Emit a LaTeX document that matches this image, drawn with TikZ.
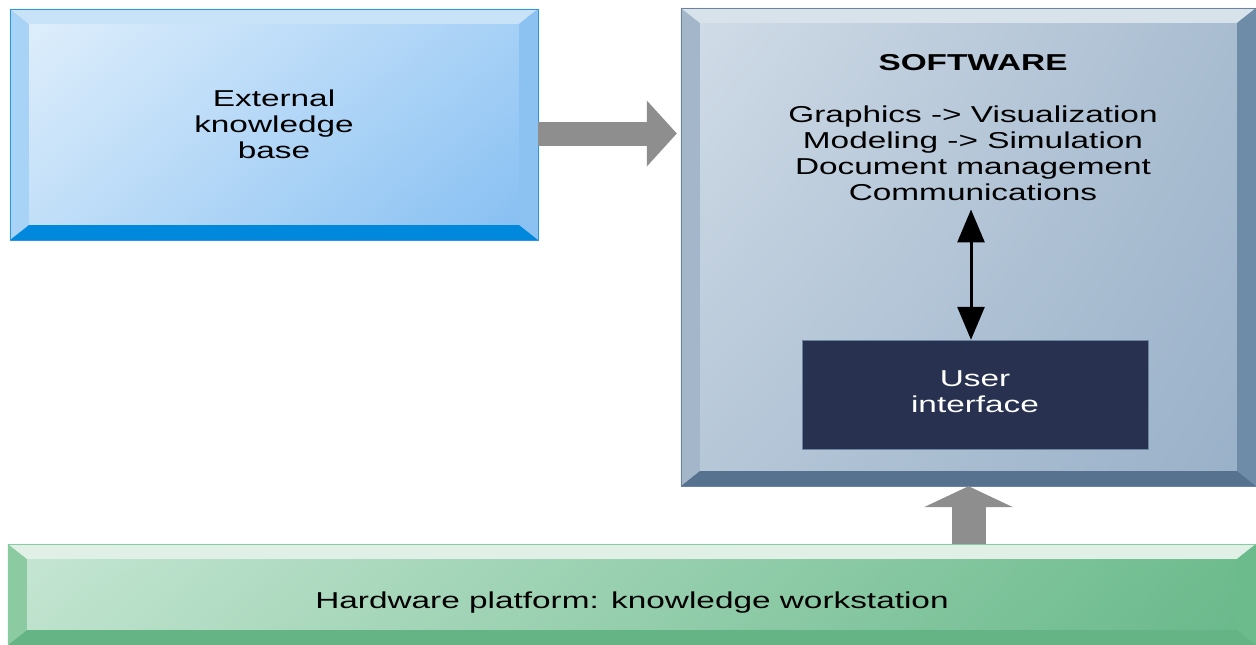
\documentclass[tikz,border=0pt]{standalone}
\usepackage{fontspec}
\setmainfont{Liberation Sans}[FakeStretch=1.45]
\usetikzlibrary{arrows.meta,shadings}

\definecolor{kbUL}{HTML}{E2F0FC}
\definecolor{kbUR}{HTML}{A6D0F6}
\definecolor{kbLL}{HTML}{C2DFF8}
\definecolor{kbLR}{HTML}{84BEF2}
\definecolor{kbTop}{HTML}{C8E2F8}
\definecolor{kbLeft}{HTML}{A8D2F6}
\definecolor{kbRight}{HTML}{8CC2F2}
\definecolor{kbBot}{HTML}{0088DC}
\definecolor{kbLine}{HTML}{2C96E6}
\definecolor{swUL}{HTML}{D2DDE8}
\definecolor{swUR}{HTML}{A8BCD0}
\definecolor{swLL}{HTML}{B6C7D8}
\definecolor{swLR}{HTML}{98B0C8}
\definecolor{swTop}{HTML}{D8E2EA}
\definecolor{swLeft}{HTML}{A4B6CA}
\definecolor{swRight}{HTML}{6E8CA8}
\definecolor{swBot}{HTML}{56728E}
\definecolor{swLine}{HTML}{6A84A0}
\definecolor{hwUL}{HTML}{C6E6D4}
\definecolor{hwUR}{HTML}{6EBC8E}
\definecolor{hwLL}{HTML}{BEE2CC}
\definecolor{hwLR}{HTML}{68B88A}
\definecolor{hwTop}{HTML}{E0F0E6}
\definecolor{hwLeft}{HTML}{8CCAA2}
\definecolor{hwRight}{HTML}{6CBB8C}
\definecolor{hwBot}{HTML}{64B486}
\definecolor{hwLine}{HTML}{86CCA0}
\definecolor{uiFill}{HTML}{283250}
\definecolor{arrowgray}{HTML}{8E8E8E}

\tikzset{
  txt/.style={align=center, font=\fontsize{23}{26}\selectfont},
  panel/.style={txt, rectangle, inner sep=0pt},
  fatarrow/.style n args={3}{draw=arrowgray, line width=#1,
    -{Triangle[width=#2,length=#3,line width=0pt]}},
  dblarrow/.style={line width=3pt,
    {Triangle[width=27pt,length=33pt]}-{Triangle[width=27pt,length=33pt]}}
}

% bevelled frame on a panel: node, left, top, right, bottom, outline
\newcommand{\bevel}[6]{%
  \fill[#2] (#1.north west) -- ([shift={(19,15)}]#1.north west)
    -- ([shift={(19,-15)}]#1.south west) -- (#1.south west) -- cycle ;
  \fill[#3] (#1.north west) -- (#1.north east)
    -- ([shift={(-19,15)}]#1.north east) -- ([shift={(19,15)}]#1.north west) -- cycle ;
  \fill[#4] (#1.north east) -- (#1.south east)
    -- ([shift={(-19,-15)}]#1.south east) -- ([shift={(-19,15)}]#1.north east) -- cycle ;
  \fill[#5] (#1.south west) -- (#1.south east)
    -- ([shift={(-19,-15)}]#1.south east) -- ([shift={(19,-15)}]#1.south west) -- cycle ;
  \draw[#6, thin] (#1.north west) rectangle (#1.south east) ;
}

\begin{document}
\begin{tikzpicture}[x=1pt,y=-1pt]
  \useasboundingbox (0,0) rectangle (1256,645) ;
  \node[panel, minimum width=528pt, minimum height=231pt, upper left=kbUL,
    upper right=kbUR, lower left=kbLL, lower right=kbLR] (kb) at (274,124.5)
    {External\\knowledge\\base} ;
  \bevel{kb}{kbLeft}{kbTop}{kbRight}{kbBot}{kbLine}
  \node[panel, minimum width=575pt, minimum height=478pt, upper left=swUL,
    upper right=swUR, lower left=swLL, lower right=swLR] (sw) at (968.5,247) {} ;
  \bevel{sw}{swLeft}{swTop}{swRight}{swBot}{swLine}
  \node[panel, minimum width=1248pt, minimum height=101pt, upper left=hwUL,
    upper right=hwUR, lower left=hwLL, lower right=hwLR] (hw) at (632,594.5) {} ;
  \bevel{hw}{hwLeft}{hwTop}{hwRight}{hwBot}{hwLine}
  \node[txt] (hwtext) at (632,603) {Hardware platform: knowledge workstation} ;
  \node[txt, font=\fontsize{23}{26}\selectfont\bfseries] (title) at (973,63) {SOFTWARE} ;
  \node[txt] (list) at (973,153.5) {Graphics -> Visualization\\Modeling -> Simulation\\
    Document management\\Communications} ;
  \node[panel, fill=uiFill, draw=swLine, minimum width=346pt,
    minimum height=109pt] (ui) at (975,394.5) {} ;
  \node[txt, text=white] (uitext) at (975,391.5) {User\\interface} ;
  % connectors
  \coordinate (kbout) at ([yshift=-9pt]kb.east) ;
  \draw[fatarrow={24pt}{66pt}{30pt}] (kbout) -- ([xshift=-4pt]kbout -| sw.west) ;
  \draw[fatarrow={34pt}{89pt}{21pt}] (sw.south |- hw.north) -- (sw.south) ;
  \draw[dblarrow, shorten <=5pt] ([xshift=-2pt]list.south) -- ([xshift=-2pt]list.south |- ui.north) ;
\end{tikzpicture}
\end{document}
